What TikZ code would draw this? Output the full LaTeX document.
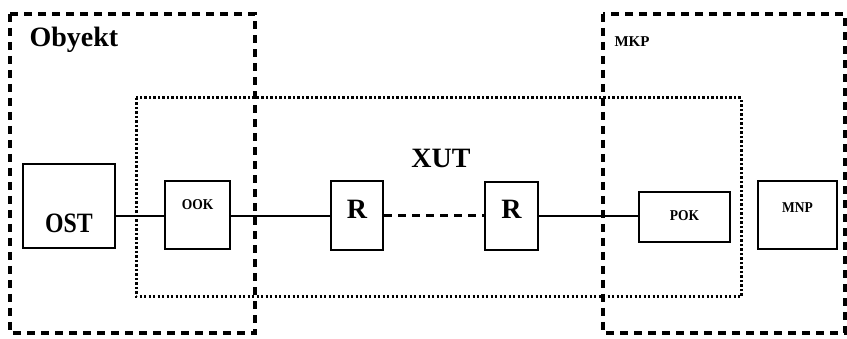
\documentclass[tikz,border=0pt]{standalone}
\usepackage{fontspec}
\setmainfont{Liberation Serif}
\begin{document}
\begin{tikzpicture}[x=1pt,y=-1pt,
  region/.style={line width=3.4pt, dash pattern=on 8pt off 6pt},
  zone/.style={line width=3pt, dash pattern=on 2.2pt off 2.3pt},
  unit/.style={draw, line width=2pt, inner sep=0pt},
  link/.style={line width=2.2pt},
  bigtxt/.style={font=\bfseries\fontsize{28}{28}\selectfont},
  smalltxt/.style={font=\bfseries\fontsize{15}{15}\selectfont}]
\useasboundingbox (0,0) rectangle (847,339);

% outer dashed regions and the dotted zone
\draw[region] (10,14) rectangle (255,333);
\draw[region] (603,14) rectangle (845,333);
\draw[zone] (136,98) rectangle (741,297);

% region titles
\node[bigtxt, anchor=base west] (obyekt) at (26,47) {Obyekt};
\node[smalltxt, anchor=base west] (mkp) at (611,47) {MKP};
\node[bigtxt, anchor=base] (xut) at (441,168) {XUT};

% blocks
\node[unit, minimum width=92pt, minimum height=84pt] (ost) at (69,206) {};
\node[unit, minimum width=65pt, minimum height=68pt] (ook) at (197.5,215) {};
\node[unit, minimum width=52pt, minimum height=69pt] (r1) at (357,215.5) {};
\node[unit, minimum width=53pt, minimum height=68pt] (r2) at (511.5,216) {};
\node[unit, minimum width=91pt, minimum height=50pt] (pok) at (684.5,217) {};
\node[unit, minimum width=79pt, minimum height=68pt] (mnp) at (797.5,215) {};

% block labels (yshift is in page units, positive upwards)
\node[bigtxt, xscale=0.85, anchor=base] at ([yshift=-27]ost.center) {OST};
\node[smalltxt, xscale=0.9, anchor=base] at ([yshift=5]ook.center) {OOK};
\node[bigtxt, anchor=base] at ([yshift=-3.5]r1.center) {R};
\node[bigtxt, anchor=base] at ([yshift=-3]r2.center) {R};
\node[smalltxt, xscale=0.9, anchor=base] at ([yshift=-4]pok.center) {POK};
\node[smalltxt, xscale=0.9, anchor=base] at ([yshift=2]mnp.center) {MNP};

% connections
\draw[link] (ost.east |- 0,216) -- (ook.west |- 0,216);
\draw[link] (ook.east |- 0,216) -- (r1.west |- 0,216);
\draw[line width=3pt, dash pattern=on 8pt off 6pt] (r1.east |- 0,216) -- (r2.west |- 0,216);
\draw[link] (r2.east |- 0,216) -- (pok.west |- 0,216);
\end{tikzpicture}
\end{document}
